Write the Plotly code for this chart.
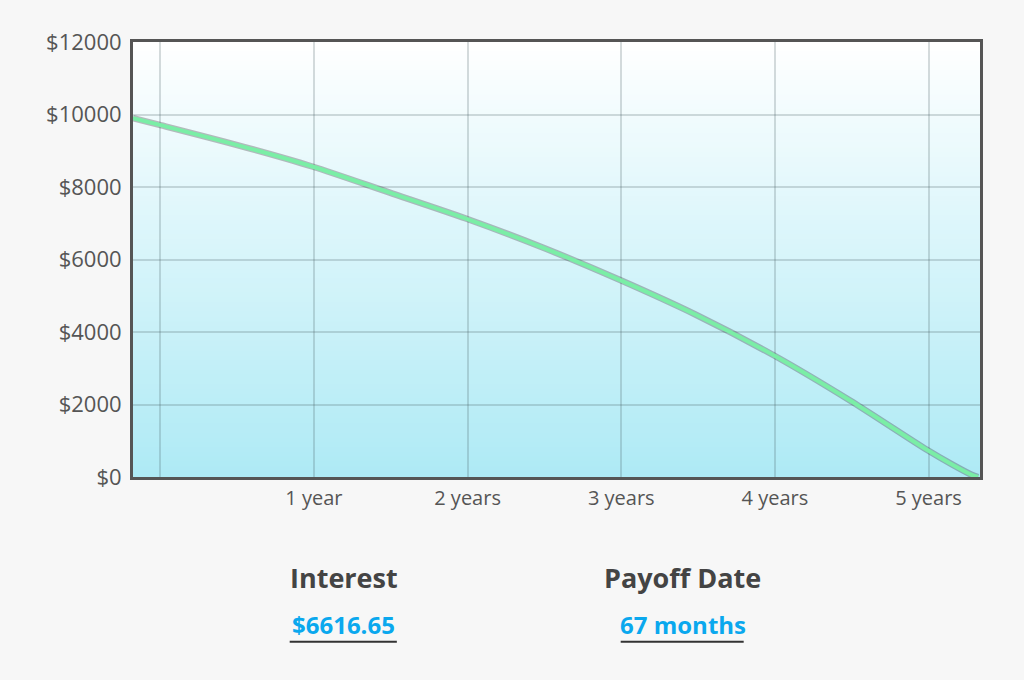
import plotly.graph_objects as go

# balance (months since start, dollars)
months = [0, 2, 8, 14, 20, 26, 32, 38, 44, 50, 56, 62, 64, 65.5, 66]
balance = [9900, 9720, 9170, 8565, 7850, 7130, 6330, 5440, 4470, 3365, 2110, 750, 340, 60, 0]

tick_months = [2.13, 14.13, 26.13, 38.13, 50.13, 62.13]
tick_labels = ['', '1 year', '2 years', '3 years', '4 years', '5 years']
y_ticks = [0, 2000, 4000, 6000, 8000, 10000, 12000]

interest = '$6616.65'
payoff = '67 months'

fig = go.Figure()

# shadow under the line
fig.add_trace(go.Scatter(
    x=months, y=balance, mode='lines',
    line=dict(color='rgba(40,40,40,0.3)', width=6.5, shape='spline', smoothing=0.8),
    hoverinfo='skip'
))
fig.add_trace(go.Scatter(
    x=months, y=balance, mode='lines',
    line=dict(color='#7aeea6', width=4, shape='spline', smoothing=0.8),
    hoverinfo='skip'
))

# vertical gradient background, white -> light cyan
shapes = []
n = 90
top = (255, 255, 255)
bot = (174, 234, 245)
for i in range(n):
    t = (i + 0.5) / n
    c = tuple(round(top[k] + (bot[k] - top[k]) * t) for k in range(3))
    shapes.append(dict(type='rect', xref='paper', yref='paper',
                       x0=0, x1=1, y0=1 - (i + 1) / n, y1=1 - i / n + 0.002,
                       fillcolor='rgb(%d,%d,%d)' % c, line=dict(width=0),
                       layer='below'))

# underlines for the summary values
for x0, x1 in [(0.185, 0.3115), (0.5758, 0.7210)]:
    shapes.append(dict(type='line', xref='paper', yref='paper',
                       x0=x0, x1=x1, y0=-0.379, y1=-0.379,
                       line=dict(color='#333333', width=2)))

fig.update_layout(
    width=1024, height=680,
    autosize=False,
    margin=dict(l=133, r=43.5, t=42, b=203, autoexpand=False),
    paper_bgcolor='#f7f7f7',
    plot_bgcolor='rgba(0,0,0,0)',
    showlegend=False,
    shapes=shapes,
    xaxis=dict(
        range=[0, 66.15],
        tickvals=tick_months, ticktext=tick_labels,
        showgrid=True, gridcolor='rgba(70,90,95,0.22)', gridwidth=1.5,
        showline=True, linecolor='#555555', linewidth=3, mirror=True,
        zeroline=False, ticks='', ticklabelstandoff=1,
        tickfont=dict(family='Open Sans', size=20, color='#555555'),
    ),
    yaxis=dict(
        range=[0, 12000],
        tickvals=y_ticks, ticktext=['$' + str(v) for v in y_ticks],
        showgrid=True, gridcolor='rgba(70,90,95,0.22)', gridwidth=1.5,
        showline=True, linecolor='#555555', linewidth=3, mirror=True,
        zeroline=False, ticks='', ticklabelstandoff=4,
        tickfont=dict(family='Open Sans', size=22, color='#555555'),
    ),
)

annotations = []
for x, label, value in [(0.249, 'Interest', interest), (0.649, 'Payoff Date', payoff)]:
    annotations.append(dict(xref='paper', yref='paper', x=x, y=-0.23,
                            xanchor='center', yanchor='middle',
                            text='<b>' + label + '</b>',
                            font=dict(family='Open Sans', size=27, color='#444444'),
                            showarrow=False))
    annotations.append(dict(xref='paper', yref='paper', x=x, y=-0.340,
                            xanchor='center', yanchor='middle',
                            text='<b>' + value + '</b>',
                            font=dict(family='Open Sans', size=24, color='#0aa8ee'),
                            showarrow=False))
fig.update_layout(annotations=annotations)

fig.write_html('out.html',
               config={'displayModeBar': False},
               post_script="document.body.style.margin='0';"
                           "document.body.style.background='#f7f7f7';")
